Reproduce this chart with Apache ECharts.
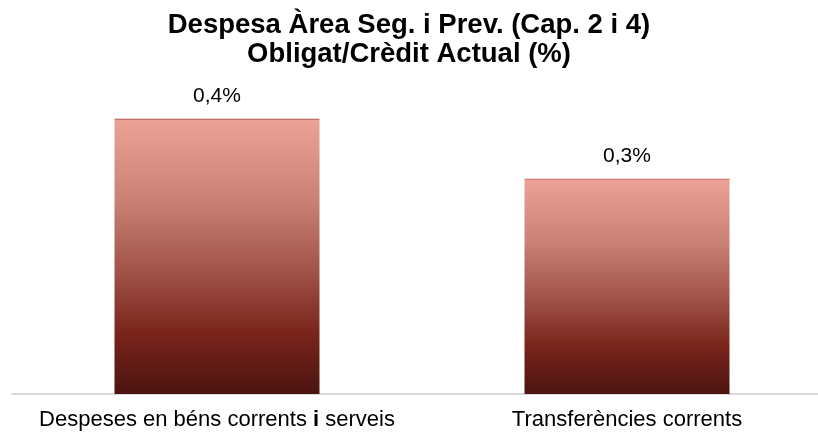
<!DOCTYPE html>
<html>
<head>
<meta charset="utf-8">
<script src="https://cdn.jsdelivr.net/npm/echarts@6/dist/echarts.min.js"></script>
<style>
  html, body { margin: 0; padding: 0; background: #fff; }
  #chart { width: 818px; height: 435px; }
</style>
</head>
<body>
<div id="chart"></div>
<script>
// Data
const categories = ['Despeses en béns corrents i serveis', 'Transferències corrents'];
const values = [0.40, 0.313];

const chart = echarts.init(document.getElementById('chart'));

const barGradient = new echarts.graphic.LinearGradient(0, 0, 0, 1, [
  { offset: 0, color: '#a44c43' },
  { offset: 0.006, color: '#eca196' },
  { offset: 0.3, color: '#c98075' },
  { offset: 0.55, color: '#a2544a' },
  { offset: 0.78, color: '#79241b' },
  { offset: 1, color: '#4c1410' }
]);

chart.setOption({
  animation: false,
  textStyle: { fontFamily: 'Liberation Sans, Arial, sans-serif' },
  title: {
    text: 'Despesa Àrea Seg. i Prev. (Cap. 2 i 4)\nObligat/Crèdit Actual (%)',
    left: 'center',
    top: 6,
    textStyle: {
      fontSize: 27.5,
      fontWeight: 'bold',
      color: '#000',
      lineHeight: 29,
      fontFamily: 'Liberation Sans, Arial, sans-serif'
    }
  },
  grid: { left: 12, width: 820, top: 50, bottom: 41, outerBoundsMode: 'none', containLabel: false },
  xAxis: {
    type: 'category',
    data: categories,
    axisLine: { lineStyle: { color: '#d9d9d9', width: 2 } },
    axisTick: { show: false },
    axisLabel: {
      fontSize: 22,
      color: '#000',
      margin: 15,
      interval: 0,
      formatter: v => v.replace(' i ', ' {b|i} '),
      rich: { b: { fontSize: 22, fontWeight: 'bold', color: '#000' } }
    }
  },
  yAxis: {
    type: 'value',
    min: 0,
    max: 0.5,
    show: false,
    splitLine: { show: false }
  },
  series: [{
    type: 'bar',
    data: values,
    barWidth: '50%',
    itemStyle: { color: barGradient },
    label: {
      show: true,
      position: 'top',
      distance: 12,
      fontSize: 21,
      color: '#000',
      formatter: p => p.value.toFixed(1).replace('.', ',') + '%'
    }
  }]
});
</script>
</body>
</html>
